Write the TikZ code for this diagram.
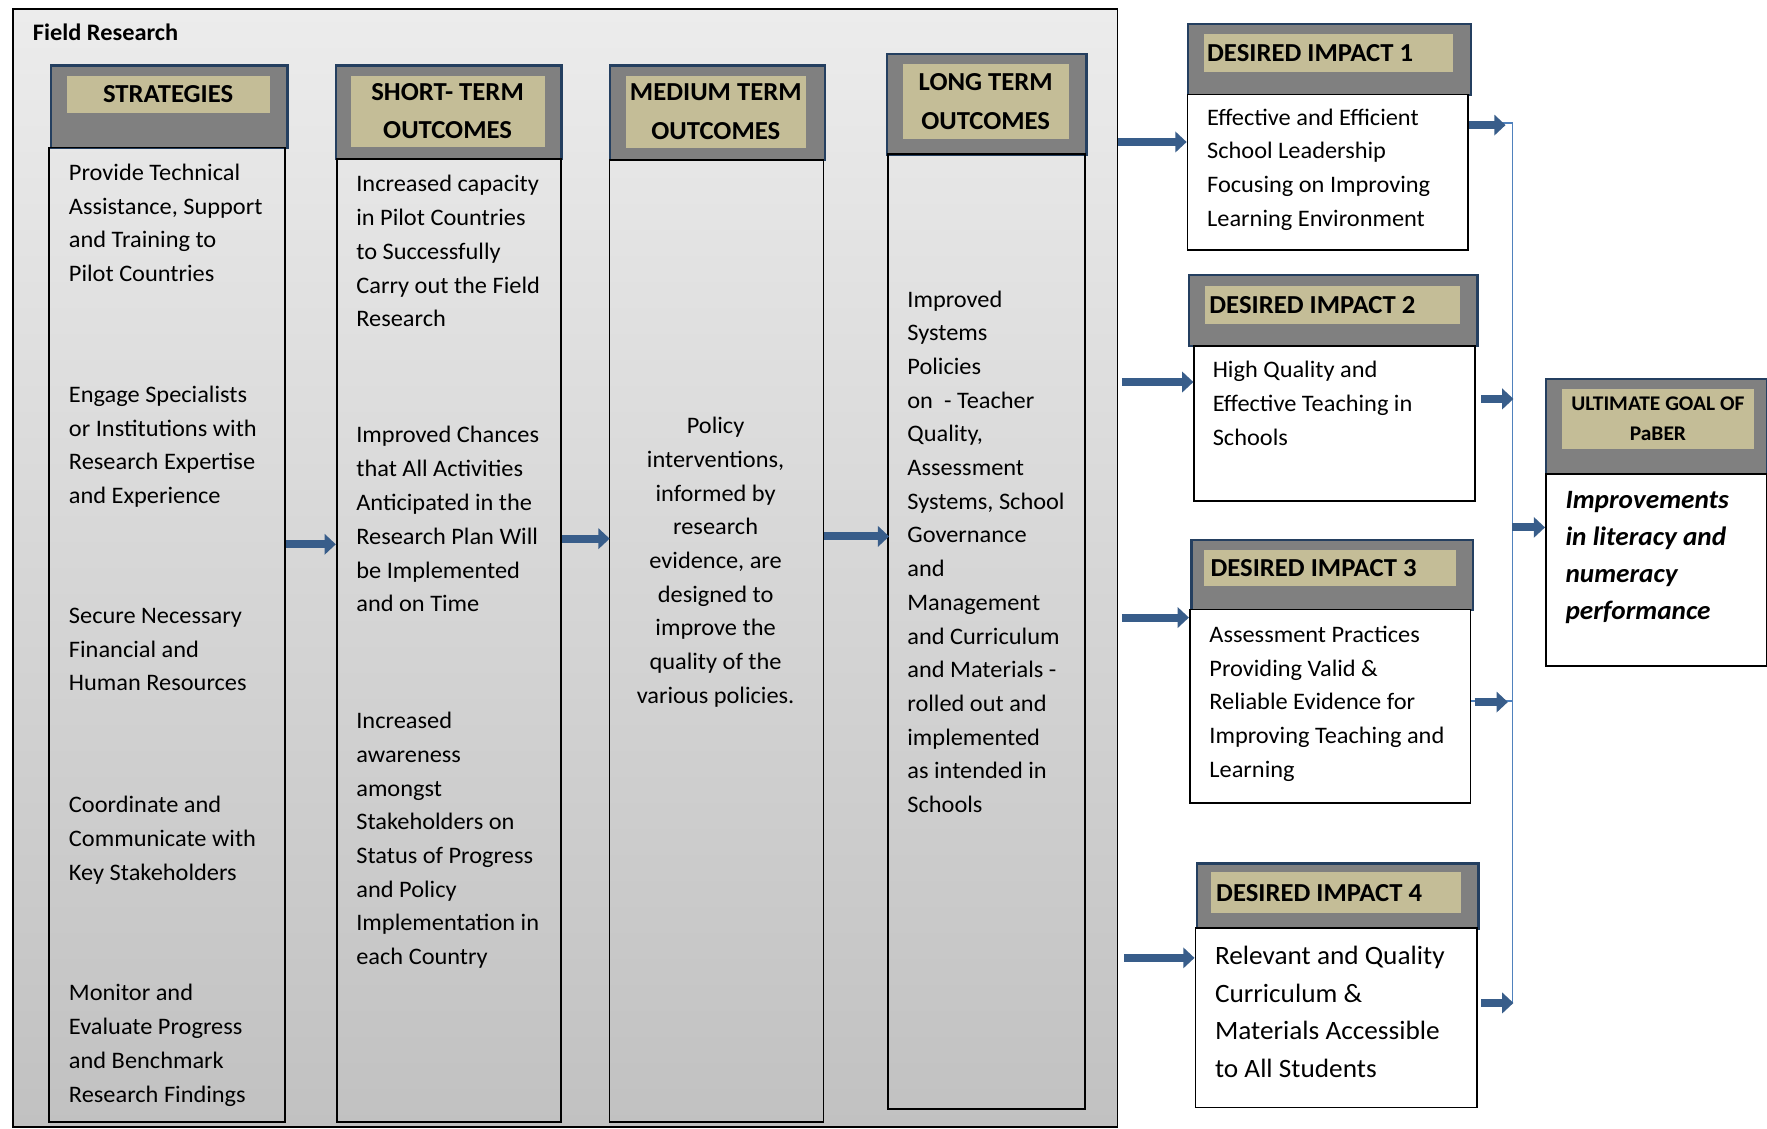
\documentclass[tikz,border=0pt]{standalone}
\usepackage{fontspec}
\setmainfont{Carlito}[FakeStretch=1.03]
\usetikzlibrary{arrows.meta}
\definecolor{navy}{HTML}{243F60}
\definecolor{hdrgray}{HTML}{808080}
\definecolor{tanc}{HTML}{C4BD97}
\definecolor{arrowblue}{HTML}{385D8A}
\definecolor{lineblue}{HTML}{4F81BD}
\definecolor{bgtop}{HTML}{ECECEC}
\definecolor{bgbot}{HTML}{C1C1C1}
\tikzset{
  framebox/.style={draw=black, line width=1.5pt, top color=bgtop, bottom color=bgbot, anchor=north west, inner sep=0pt},
  bodybox/.style={draw=black, line width=1.6pt, anchor=north west, inner sep=0pt},
  whitebox/.style={bodybox, fill=white},
  hdrbox/.style={draw=navy, line width=2.2pt, fill=hdrgray, anchor=north west, inner sep=0pt},
  tanbox/.style={fill=tanc, anchor=north west, inner sep=0pt, align=center, font=\bfseries\fontsize{23}{34}\selectfont},
  hdrtxt/.style={anchor=west, inner sep=0pt, font=\bfseries\fontsize{23}{28}\selectfont},
  txt/.style={anchor=base west, inner sep=0pt, align=left, font=\fontsize{21}{30}\selectfont},
  bigtxt/.style={anchor=base west, inner sep=0pt, align=left, font=\fontsize{23.5}{33.3}\selectfont},
  barrow/.style={draw=arrowblue, line width=7pt, -{Triangle[length=10pt,width=18pt]}},
  busline/.style={draw=lineblue, line width=1.3pt},
}
\begin{document}
\begin{tikzpicture}[x=1pt,y=-1pt]
\useasboundingbox (0,0) rectangle (1568,1001);
% outer frame
\node[framebox, minimum width=980pt, minimum height=992.5pt] (frame) at (11,7) {};
\node[anchor=base west, inner sep=0pt, font=\bfseries\fontsize{21}{26}\selectfont] (title) at (29,35.5) {Field Research};

% Strategies
\node[hdrbox, minimum width=210pt, minimum height=73pt] (sh) at (44,57) {};
\node[tanbox, minimum width=180pt, minimum height=33pt] (stan) at (59,67) {STRATEGIES};
\node[bodybox, minimum width=209pt, minimum height=865pt] (sb) at (43,130) {};
\node[txt] (s1) at (61,250) {Provide Technical\\Assistance, Support\\and Training to\\Pilot Countries};
\node[txt] (s2) at (61,447) {Engage Specialists\\or Institutions with\\Research Expertise\\and Experience};
\node[txt] (s3) at (61,613) {Secure Necessary\\Financial and\\Human Resources};
\node[txt] (s4) at (61,781) {Coordinate and\\Communicate with\\Key Stakeholders};
\node[txt] (s5) at (61,978) {Monitor and\\Evaluate Progress\\and Benchmark\\Research Findings};

% Short term
\node[hdrbox, minimum width=200pt, minimum height=83pt] (th) at (297,57) {};
\node[tanbox, minimum width=172pt, minimum height=63pt] (ttan) at (311,67) {SHORT- TERM\\OUTCOMES};
\node[bodybox, minimum width=199pt, minimum height=855pt] (tb) at (298,140) {};
\node[txt] (t1) at (316,290) {Increased capacity\\in Pilot Countries\\to Successfully\\Carry out the Field\\Research};
\node[txt] (t2) at (316,543) {Improved Chances\\that All Activities\\Anticipated in the\\Research Plan Will\\be Implemented\\and on Time};
\node[txt, font=\fontsize{21}{29.9}\selectfont] (t3) at (316,856) {Increased\\awareness\\amongst\\Stakeholders on\\Status of Progress\\and Policy\\Implementation in\\each Country};

% Medium term
\node[hdrbox, minimum width=191pt, minimum height=84pt] (mh) at (540,57) {};
\node[tanbox, minimum width=160pt, minimum height=64pt] (mtan) at (555,67) {MEDIUM TERM\\OUTCOMES};
\node[bodybox, minimum width=190pt, minimum height=854pt] (mb) at (540,141) {};
\node[txt, anchor=base, align=center, font=\fontsize{21}{29.9}\selectfont] (m1) at (635,624) {Policy\\interventions,\\informed by\\research\\evidence, are\\designed to\\improve the\\quality of the\\various policies.};

% Long term
\node[hdrbox, minimum width=177pt, minimum height=89pt] (lh) at (786,47) {};
\node[tanbox, minimum width=147pt, minimum height=66pt] (ltan) at (801,57) {LONG TERM\\OUTCOMES};
\node[bodybox, minimum width=175pt, minimum height=847pt] (lb) at (787,136) {};
\node[txt, font=\fontsize{21}{29.9}\selectfont] (l1) at (805,721) {Improved\\Systems\\Policies\\on~ - Teacher\\Quality,\\Assessment\\Systems, School\\Governance\\and\\Management\\and Curriculum\\and Materials -\\rolled out and\\implemented\\as intended in\\Schools};

% Desired impact 1
\node[hdrbox, minimum width=251pt, minimum height=63pt] (d1h) at (1053,20) {};
\node[tanbox, minimum width=221pt, minimum height=34pt] (d1tan) at (1068,30) {};
\node[hdrtxt] (d1t) at ([xshift=3pt]d1tan.west) {DESIRED IMPACT 1};
\node[whitebox, minimum width=249pt, minimum height=138pt] (d1b) at (1053,83) {};
\node[txt] (d1x) at (1071,201) {Effective and Efficient\\School Leadership\\Focusing on Improving\\Learning Environment};

% Desired impact 2
\node[hdrbox, minimum width=256pt, minimum height=63pt] (d2h) at (1054,243) {};
\node[tanbox, minimum width=226pt, minimum height=33pt] (d2tan) at (1069,254) {};
\node[hdrtxt] (d2t) at ([xshift=4pt]d2tan.west) {DESIRED IMPACT 2};
\node[whitebox, minimum width=249pt, minimum height=138pt] (d2b) at (1059,306) {};
\node[txt] (d2x) at (1076,395) {High Quality and\\Effective Teaching in\\Schools};

% Desired impact 3
\node[hdrbox, minimum width=250pt, minimum height=62pt] (d3h) at (1056,478) {};
\node[tanbox, minimum width=224pt, minimum height=32pt] (d3tan) at (1068,488) {};
\node[hdrtxt] (d3t) at ([xshift=6pt]d3tan.west) {DESIRED IMPACT 3};
\node[whitebox, minimum width=249pt, minimum height=172pt] (d3b) at (1055,540) {};
\node[txt] (d3x) at (1073,690) {Assessment Practices\\Providing Valid \&\\Reliable Evidence for\\Improving Teaching and\\Learning};

% Desired impact 4
\node[hdrbox, minimum width=250pt, minimum height=58pt] (d4h) at (1061,765) {};
\node[tanbox, minimum width=222pt, minimum height=36pt] (d4tan) at (1074,774) {};
\node[hdrtxt] (d4t) at ([xshift=5pt]d4tan.west) {DESIRED IMPACT 4};
\node[whitebox, minimum width=250pt, minimum height=159pt] (d4b) at (1060,823) {};
\node[bigtxt] (d4x) at (1078,956) {Relevant and Quality\\Curriculum \&\\Materials Accessible\\to All Students};

% Ultimate goal
\node[hdrbox, minimum width=196pt, minimum height=85pt] (gh) at (1371,335) {};
\node[tanbox, minimum width=170pt, minimum height=53pt, font=\bfseries\fontsize{18.5}{26}\selectfont] (gtan) at (1386,345) {ULTIMATE GOAL OF\\PaBER};
\node[whitebox, minimum width=196pt, minimum height=170pt] (gb) at (1371,420) {};
\node[bigtxt, font=\bfseries\itshape\fontsize{23.5}{33}\selectfont] (gx) at (1389,550) {Improvements\\in literacy and\\numeracy\\performance};

% connectors between columns
\draw[barrow] (sb.east |- 0,483) -- (tb.west |- 0,483);
\draw[barrow] (tb.east |- 0,478) -- ([xshift=1pt]mb.west |- 0,478);
\draw[barrow] (mb.east |- 0,476) -- ([xshift=2pt]lb.west |- 0,476);

% frame to desired impacts
\draw[barrow] (frame.east |- 0,126) -- (d1b.west |- 0,126);
\draw[barrow, shorten <=3pt] (frame.east |- 0,339) -- (d2b.west |- 0,339);
\draw[barrow, shorten <=3pt] (frame.east |- 0,548) -- (d3b.west |- 0,548);
\draw[barrow, shorten <=5pt] (frame.east |- 0,850) -- (d4b.west |- 0,850);

% bus line
\coordinate (busTop) at (1342,109);
\coordinate (busBot) at (1342,890);
\draw[busline] (d1b.east |- busTop) -- (busTop) -- (busBot);
\draw[busline] (d3b.east |- 0,622) -- (busTop |- 0,622);

% desired impacts to bus
\draw[barrow, shorten >=6pt] (d1b.east |- 0,111) -- (busTop |- 0,111);
\draw[barrow, shorten <=5pt] (d2b.east |- 0,354) -- ([xshift=1pt]busTop |- 0,354);
\draw[barrow, shorten <=3pt, shorten >=4pt] (d3b.east |- 0,623) -- (busTop |- 0,623);
\draw[barrow, shorten <=3pt] (d4b.east |- 0,890) -- ([xshift=1pt]busTop |- 0,890);

% bus to goal
\draw[barrow] (busTop |- 0,468) -- (gb.west |- 0,468);
\end{tikzpicture}
\end{document}
